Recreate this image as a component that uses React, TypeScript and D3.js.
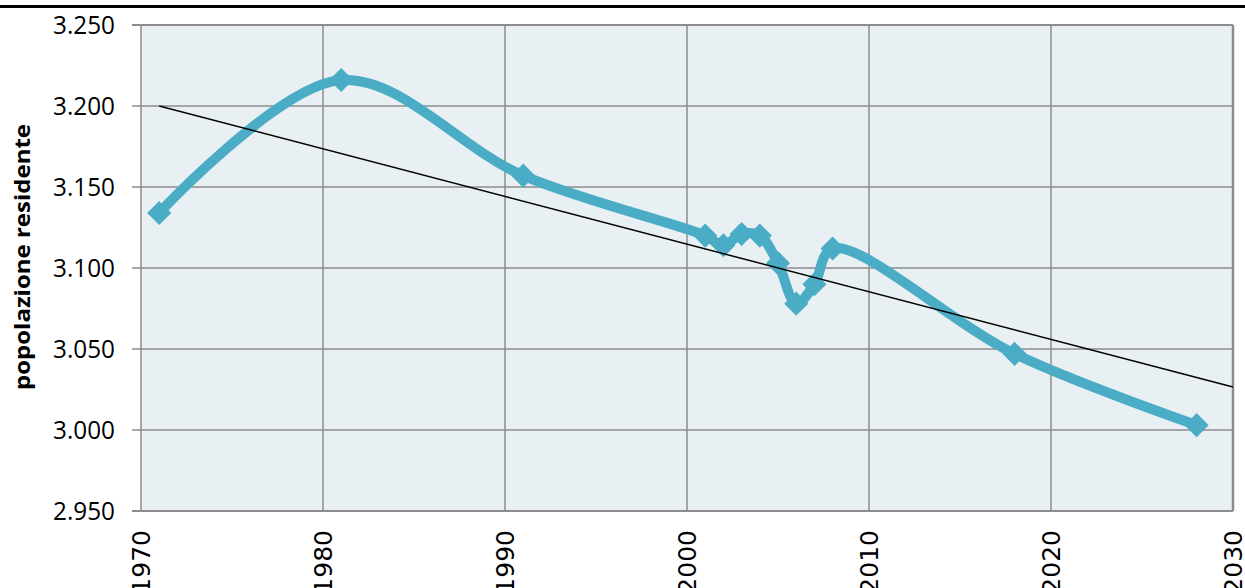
import React from "react";
import * as d3 from "d3";

// popolazione residente (milioni) per anno
const years = [1971, 1981, 1991, 2001, 2002, 2003, 2004, 2005, 2006, 2007, 2008, 2018, 2028];
const population = [3.134, 3.216, 3.157, 3.12, 3.114, 3.121, 3.12, 3.103, 3.078, 3.09, 3.112, 3.047, 3.003];

// linea di tendenza (estremi)
const trendYears = [1971, 2030];
const trendValues = [3.2, 3.0265];

const xTicks = [1970, 1980, 1990, 2000, 2010, 2020, 2030];
const yTicks = [2.95, 3.0, 3.05, 3.1, 3.15, 3.2, 3.25];

const width = 1245;
const height = 588;
const plot = { left: 141, right: 1233, top: 25, bottom: 511 };

const lineColor = "#4BACC6";
const gridColor = "#8C8C8C";

const fmt = (v: number) => v.toFixed(3);

const App = () => {
    const x = d3.scaleLinear().domain([1970, 2030]).range([plot.left, plot.right]);
    const y = d3.scaleLinear().domain([2.95, 3.25]).range([plot.bottom, plot.top]);

    const points = years.map((yr, i) => [x(yr), y(population[i])] as [number, number]);

    const smooth = d3
        .line<[number, number]>()
        .x((d) => d[0])
        .y((d) => d[1])
        .curve(d3.curveCatmullRom.alpha(0.5));

    const trend = d3
        .line<number>()
        .x((d) => x(d))
        .y((d, i) => y(trendValues[i]));

    const diamond = d3.symbol(d3.symbolSquare, 290)();

    return (
        <svg
            width={width}
            height={height}
            style={{ position: "absolute", left: 0, top: 0, background: "#fff" }}
        >
            {/* bordo superiore della pagina */}
            <rect x={0} y={5} width={width} height={3} fill="#000" />

            {/* area del grafico */}
            <rect
                x={plot.left}
                y={plot.top}
                width={plot.right - plot.left}
                height={plot.bottom - plot.top}
                fill="#E9F0F4"
            />

            {/* griglia orizzontale + tacche */}
            {yTicks.map((t) => (
                <line
                    key={"h" + t}
                    x1={plot.left - 9}
                    x2={plot.right}
                    y1={y(t)}
                    y2={y(t)}
                    stroke={gridColor}
                    strokeWidth={t === 3.25 || t === 2.95 ? 2 : 1.5}
                />
            ))}

            {/* griglia verticale */}
            {xTicks.map((t) => (
                <line
                    key={"v" + t}
                    x1={x(t)}
                    x2={x(t)}
                    y1={plot.top}
                    y2={plot.bottom}
                    stroke={gridColor}
                    strokeWidth={t === 2030 ? 2.5 : 1.5}
                />
            ))}

            {/* etichette asse y */}
            {yTicks.map((t) => (
                <text
                    key={"yl" + t}
                    x={115}
                    y={y(t)}
                    dy="0.37em"
                    textAnchor="end"
                    fontFamily="'Open Sans', sans-serif"
                    fontSize={25}
                    textLength={62}
                    lengthAdjust="spacingAndGlyphs"
                    fill="#000"
                >
                    {fmt(t)}
                </text>
            ))}

            {/* etichette asse x */}
            {xTicks.map((t) => (
                <text
                    key={"xl" + t}
                    transform={`translate(${x(t)},530) rotate(-90)`}
                    dy="0.36em"
                    textAnchor="end"
                    fontFamily="'DejaVu Sans', sans-serif"
                    fontSize={25}
                    fill="#000"
                >
                    {t}
                </text>
            ))}

            {/* titolo asse y */}
            <text
                transform={`translate(22,${(plot.top + plot.bottom) / 2 - 11}) rotate(-90)`}
                dy="0.36em"
                textAnchor="middle"
                fontFamily="'Open Sans', sans-serif"
                fontWeight="bold"
                fontSize={22}
                textLength={266}
                lengthAdjust="spacingAndGlyphs"
                fill="#000"
            >
                popolazione residente
            </text>

            {/* serie */}
            <path
                d={smooth(points) || ""}
                fill="none"
                stroke={lineColor}
                strokeWidth={10}
                strokeLinejoin="round"
            />
            {points.map((p, i) => (
                <path
                    key={"m" + i}
                    d={diamond || ""}
                    transform={`translate(${p[0]},${p[1]}) rotate(45)`}
                    fill={lineColor}
                />
            ))}

            {/* tendenza lineare */}
            <path d={trend(trendYears) || ""} fill="none" stroke="#000" strokeWidth={1.5} />
        </svg>
    );
};

export default App;
